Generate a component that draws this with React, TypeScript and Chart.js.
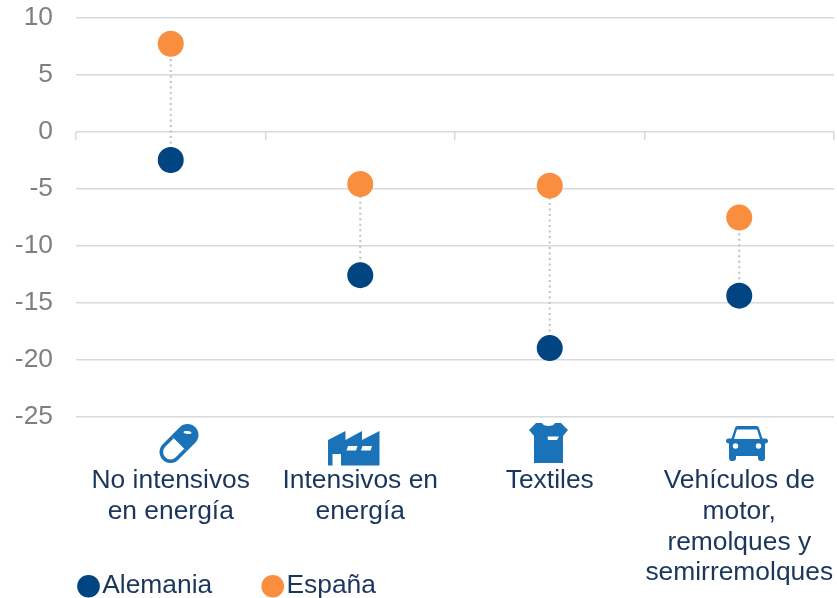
import React, { useEffect, useRef } from "react";
import { Chart, registerables } from "chart.js";

Chart.register(...registerables);

const categories = [
  ["No intensivos", "en energía"],
  ["Intensivos en", "energía"],
  ["Textiles"],
  ["Vehículos de", "motor,", "remolques y", "semirremolques"],
];
const alemania = [-2.5, -12.6, -19, -14.4];
const espana = [7.7, -4.6, -4.75, -7.55];
const seriesNames = ["Alemania", "España"];

const FONT = "'Liberation Sans', Arial, sans-serif";
const NAVY = "#004481";
const ORANGE = "#F98E3F";
const ICON = "#1A72B8";
const LABEL = "#1B365D";
const GREY = "#7F7F7F";
const GRID = "#D9D9D9";

function drawPill(c: CanvasRenderingContext2D) {
  c.save();
  c.translate(17, 17.5);
  c.rotate(-Math.PI / 4);
  const L = 23, R = 11;
  c.fillStyle = ICON;
  c.beginPath();
  c.moveTo(0, -R);
  c.lineTo(L - R, -R);
  c.arc(L - R, 0, R, -Math.PI / 2, Math.PI / 2);
  c.lineTo(0, R);
  c.closePath();
  c.fill();
  c.strokeStyle = ICON;
  c.lineWidth = 3.6;
  c.beginPath();
  c.moveTo(0, -R + 1.8);
  c.lineTo(-L + R, -R + 1.8);
  c.arc(-L + R, 0, R - 1.8, -Math.PI / 2, Math.PI / 2, true);
  c.lineTo(0, R - 1.8);
  c.stroke();
  c.restore();
  c.fillStyle = "#fff";
  c.beginPath();
  c.ellipse(25.5, 6.5, 4, 1.4, 0.1, 0, Math.PI * 2);
  c.fill();
}

function drawFactory(c: CanvasRenderingContext2D) {
  c.fillStyle = ICON;
  c.fill(new Path2D("M0 9 L17.5 0 V9 L34 0 V9 L51.5 0 V34.5 H13 V23 H4.5 V34.5 H0 Z"));
  c.fillStyle = "#fff";
  c.fill(new Path2D("M20 15 H29.5 L28 19.5 H18.5 Z M34.5 15 H44 L42.5 19.5 H33 Z"));
}

function drawShirt(c: CanvasRenderingContext2D) {
  c.fillStyle = ICON;
  c.fill(new Path2D("M7 0 H13 C14 4 25 4 26 0 H32 L39 7 L34 13 L34 40 H5 L5 13 L0 7 Z"));
  c.fillStyle = "#fff";
  c.fill(new Path2D("M18.5 13.5 H30 L28 17 H19 Z"));
}

function drawCar(c: CanvasRenderingContext2D) {
  c.fillStyle = ICON;
  c.fill(
    new Path2D(
      "M9 2 C9.5 0.5 10.5 0 12 0 H30 C31.5 0 32.5 0.5 33 2 L36.5 12.5 H39.5 C41 12.5 42 13.5 42 15 C42 16.5 41 17.5 39 17.5 V32 C39 34 38 35 36.5 35 H35 C33 35 32 34 32 32 V30 H10 V32 C10 34 9 35 7 35 H5.5 C4 35 3 34 3 32 V17.5 C1 17.5 0 16.5 0 15 C0 13.5 1 12.5 2.5 12.5 H5.5 Z"
    )
  );
  c.fillStyle = "#fff";
  c.fill(new Path2D("M11 3.5 H31 L34 13 H8 Z"));
  c.beginPath();
  c.arc(9.5, 20, 2.7, 0, Math.PI * 2);
  c.arc(32.5, 20, 2.7, 0, Math.PI * 2);
  c.fill();
}

const icons = [
  { draw: drawPill, dx: -9, top: 426 },
  { draw: drawFactory, dx: -32, top: 431 },
  { draw: drawShirt, dx: -21, top: 423 },
  { draw: drawCar, dx: -13, top: 426 },
];

const connectors = {
  id: "connectors",
  beforeDatasetsDraw(chart: any) {
    const a = chart.getDatasetMeta(0).data;
    const b = chart.getDatasetMeta(1).data;
    const c = chart.ctx;
    c.save();
    c.strokeStyle = "#BFBFBF";
    c.lineWidth = 2;
    c.setLineDash([2, 3.5]);
    a.forEach((p: any, i: number) => {
      c.beginPath();
      c.moveTo(p.x, p.y);
      c.lineTo(b[i].x, b[i].y);
      c.stroke();
    });
    c.restore();
  },
};

const iconPlugin = {
  id: "icons",
  afterDraw(chart: any) {
    const c = chart.ctx;
    const x = chart.scales.x;
    icons.forEach((ic, i) => {
      c.save();
      c.translate(Math.round(x.getPixelForValue(i)) + ic.dx, ic.top);
      ic.draw(c);
      c.restore();
    });
  },
};

const legendPlace = {
  id: "legendPlace",
  afterLayout(chart: any) {
    const l = chart.legend;
    l.left = 28;
    l.top = 513;
    chart.scales.x.bottom = 598;
  },
};

export default function App() {
  const ref = useRef<HTMLCanvasElement>(null);
  useEffect(() => {
    const chart = new Chart(ref.current!, {
      type: "line",
      data: {
        labels: categories as any,
        datasets: [
          {
            label: seriesNames[0],
            data: alemania,
            showLine: false,
            backgroundColor: NAVY,
            borderColor: NAVY,
            pointRadius: 13,
            pointBorderWidth: 0,
            pointStyle: "circle",
          },
          {
            label: seriesNames[1],
            data: espana,
            showLine: false,
            backgroundColor: ORANGE,
            borderColor: ORANGE,
            pointRadius: 13,
            pointBorderWidth: 0,
            pointStyle: "circle",
          },
        ],
      },
      options: {
        animation: false,
        responsive: false,
        layout: { autoPadding: false, padding: { top: 17.5, right: 3, left: 0, bottom: 0 } },
        plugins: {
          tooltip: { enabled: false },
          legend: {
            position: "bottom",
            align: "start",
            maxHeight: 20,
            labels: {
              usePointStyle: true,
              boxWidth: 1,
              boxHeight: 16,
              padding: 60,
              color: LABEL,
              font: { family: FONT, size: 26.4 },
            },
          },
        },
        scales: {
          y: {
            min: -25,
            max: 10,
            afterFit(s: any) {
              s.width = 76;
              s.paddingTop = 0;
              s.paddingBottom = 0;
            },
            ticks: {
              stepSize: 5,
              color: GREY,
              padding: 23,
              font: { family: FONT, size: 26.4 },
            },
            grid: { color: GRID, lineWidth: 1.5, drawTicks: false },
            border: { display: false },
          },
          x: {
            position: "bottom",
            afterFit(s: any) {
              s.height = 598 - 416.5 - 20;
              s.paddingLeft = 0;
              s.paddingRight = 0;
            },
            offset: true,
            ticks: {
              autoSkip: false,
              maxRotation: 0,
              minRotation: 0,
              color: LABEL,
              padding: 41,
              font: { family: FONT, size: 26.4, lineHeight: 1.165 },
            },
            grid: { display: false },
            border: { display: false },
          },
          x2: {
            type: "category",
            position: { y: 0 },
            offset: true,
            ticks: { display: false },
            grid: {
              offset: true,
              drawOnChartArea: false,
              drawTicks: true,
              tickLength: 8,
              color: GRID,
              lineWidth: 1.5,
            },
            border: { display: false },
          },
        },
      } as any,
      plugins: [connectors, iconPlugin, legendPlace],
    });
    return () => chart.destroy();
  }, []);
  return (
    <canvas
      ref={ref}
      width={837}
      height={598}
      style={{ position: "fixed", left: 0, top: 0, display: "block", width: 837, height: 598 }}
    />
  );
}
